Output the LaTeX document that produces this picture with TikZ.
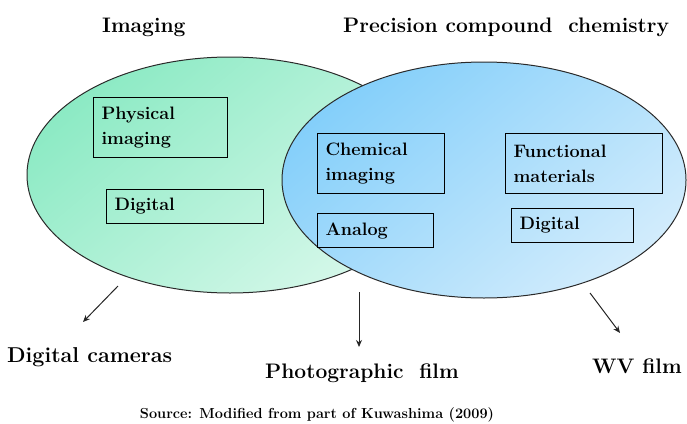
\documentclass[tikz,border=0pt]{standalone}
\usetikzlibrary{arrows.meta}
\definecolor{greenA}{HTML}{8CEAC4}
\definecolor{greenB}{HTML}{D6F8EA}
\definecolor{blueA}{HTML}{84CFFA}
\definecolor{blueB}{HTML}{D2ECFC}
\definecolor{edgegray}{HTML}{2A2A2A}
\tikzset{
  set/.style={draw=edgegray, line width=1pt, shading=axis, shading angle=40},
  itembox/.style={draw=black, line width=1.1pt, inner xsep=8pt, inner ysep=0pt,
    align=left, font=\bfseries\fontsize{18}{25}\selectfont, anchor=north west},
  title/.style={font=\bfseries\fontsize{21}{25}\selectfont, anchor=base west, inner sep=0pt},
  arr/.style={draw=black!85, line width=1pt, -{Stealth[length=7pt,width=6pt]}},
}
\begin{document}
\begin{tikzpicture}[x=1pt,y=-1pt]
\useasboundingbox (0,0) rectangle (687,423);
% sets
\path[set, top color=greenA, bottom color=greenB, shading angle=40]
  (230,175) ellipse [x radius=203pt, y radius=118pt];
\path[set, top color=blueA, bottom color=blueB, shading angle=40]
  (484,180) ellipse [x radius=202pt, y radius=118pt];
% titles
\node[title] (timg) at (102,32) {Imaging};
\node[title] (tpcc) at (343,32) {Precision compound\ \ chemistry};
% boxes
\node[itembox, text width=118pt, minimum height=60pt] (phys) at (93,97) {Physical\\imaging};
\node[itembox, text width=141pt, minimum height=34pt] (dig1) at (106,189) {Digital};
\node[itembox, text width=111pt, minimum height=60pt] (chem) at (317,133) {Chemical\\imaging};
\node[itembox, text width=100pt, minimum height=34pt] (anal) at (317,213) {Analog};
\node[itembox, text width=141pt, minimum height=60pt] (func) at (505,133) {Functional\\materials};
\node[itembox, text width=106pt, minimum height=34pt] (dig2) at (511,208) {Digital};
% outputs
\node[title, font=\bfseries\fontsize{21.5}{25}\selectfont] (cam) at (7,362) {Digital cameras};
\node[title] (film) at (265,378) {Photographic\ \ film};
\node[title] (wv) at (592,373) {WV film};
\node[anchor=base, inner sep=0pt, font=\bfseries\fontsize{14.5}{17}\selectfont] (src) at (317,418)
  {Source: Modified from part of Kuwashima (2009)};
% arrows
\coordinate (a1s) at (118,286);
\coordinate (a1e) at (83,322);
\coordinate (a2s) at (359,292);
\coordinate (a2e) at (359,347);
\coordinate (a3s) at (590,293);
\coordinate (a3e) at (620,333);
\draw[arr] (a1s) -- (a1e);
\draw[arr] (a2s) -- (a2e);
\draw[arr] (a3s) -- (a3e);
\end{tikzpicture}
\end{document}
